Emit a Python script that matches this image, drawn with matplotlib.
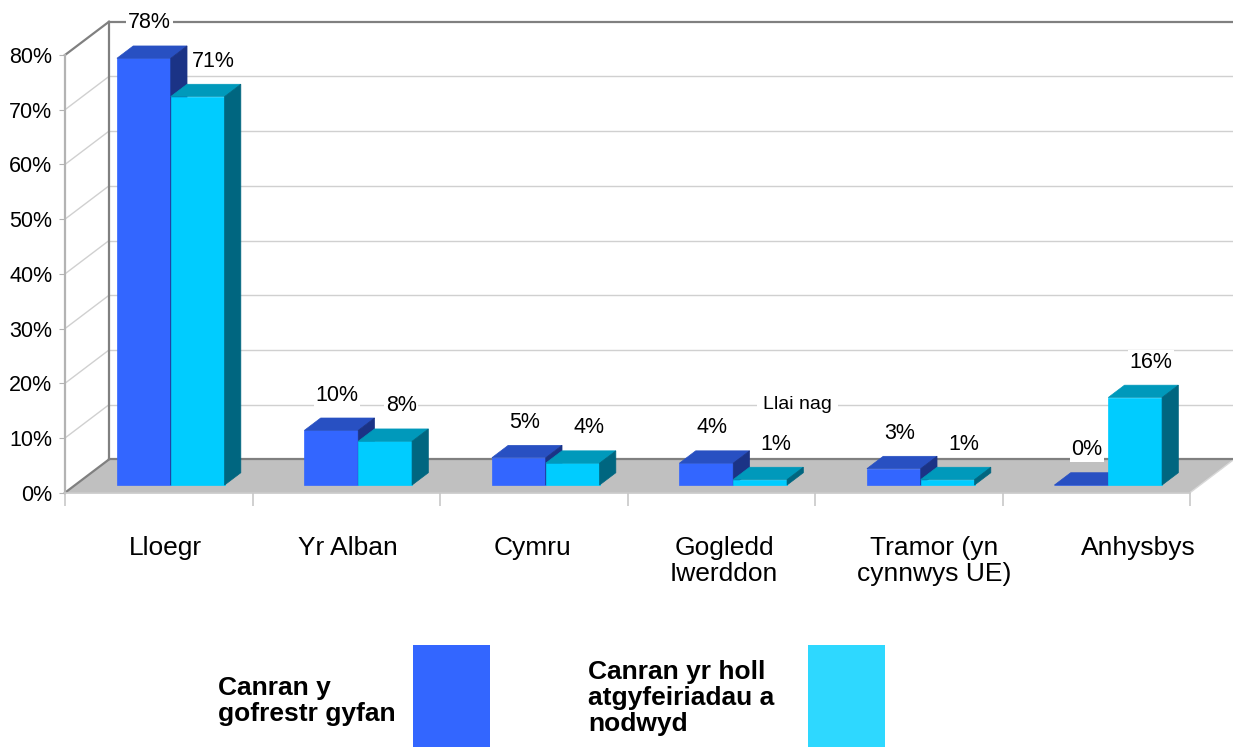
import matplotlib.pyplot as plt
from matplotlib.patches import Polygon, Rectangle

plt.rcParams['font.family'] = ['Liberation Sans', 'DejaVu Sans']

# Data
categories = ['Lloegr', 'Yr Alban', 'Cymru', 'Gogledd\nIwerddon',
              'Tramor (yn\ncynnwys UE)', 'Anhysbys']
register_pct = [78, 10, 5, 4, 3, 0]
referral_pct = [71, 8, 4, 1, 1, 16]
series_names = ['Canran y\ngofrestr gyfan',
                'Canran yr holl\natgyfeiriadau a\nnodwyd']
y_ticks = [0, 10, 20, 30, 40, 50, 60, 70, 80]

W, H = 1233, 747
fig = plt.figure(figsize=(W / 100, H / 100), dpi=100)

# front box of the pseudo-3D chart, in pixels
left_px, right_px, top_px, bot_px = 65, 1190, 55, 492.7
ax = fig.add_axes([left_px / W, (H - bot_px) / H,
                   (right_px - left_px) / W, (bot_px - top_px) / H])
n = len(categories)
ymax = 80
ax.set_xlim(0, n)
ax.set_ylim(0, ymax)

# depth of the floor, in data units (x: categories, y: percent)
DX = 44 / ((right_px - left_px) / n)
DY = 33.3 / ((bot_px - top_px) / ymax)

# bar placement in depth
d0, dd = 0.23, 0.37
bar_w = 0.287

grid_c = '#d0d0d0'
dark_c = '#808080'

# floor
ax.add_patch(Polygon([(0, 0), (n, 0), (n + DX, DY), (DX, DY)],
                     closed=True, facecolor='#c0c0c0', edgecolor='none',
                     zorder=1, clip_on=False))
ax.plot([n, n + DX], [0, DY], color='#d8d8d8', lw=1, zorder=1.5, clip_on=False)

# back wall and side wall grid
for v in y_ticks:
    col = dark_c if v in (0, ymax) else grid_c
    lw = 1.6 if v in (0, ymax) else 1.0
    ax.plot([DX, n + DX], [v + DY, v + DY], color=col, lw=lw,
            zorder=2, clip_on=False)
    ax.plot([0, DX], [v, v + DY], color=col, lw=lw, zorder=2, clip_on=False)
ax.plot([DX, DX], [DY, ymax + DY], color=dark_c, lw=1.6, zorder=2, clip_on=False)

# axes styling: left spine = front wall edge, bottom spine = floor front edge
for s in ['top', 'right']:
    ax.spines[s].set_visible(False)
ax.spines['left'].set_color('#b3b3b3')
ax.spines['left'].set_linewidth(1.6)
ax.spines['bottom'].set_color('#c8c8c8')
ax.spines['bottom'].set_linewidth(1.2)
for s in ['left', 'bottom']:
    ax.spines[s].set_zorder(2.5)
ax.set_facecolor('none')
ax.set_yticks(y_ticks)
ax.set_yticklabels([f'{v}%' for v in y_ticks], fontsize=15.5)
ax.tick_params(axis='y', length=4, color='#b3b3b3', pad=5)
ax.set_xticks(range(n + 1))
ax.set_xticklabels([])
ax.tick_params(axis='x', length=9, color='#c8c8c8', width=1.2)

faces = {
    'blue': ('#3366ff', '#2850c2', '#1b3386'),
    'cyan': ('#00ccff', '#0099bb', '#006680'),
}


def draw_bar(x0, v, cols, label_dx):
    front, top, side = cols
    xa, ya = x0 + d0 * DX, d0 * DY
    xb, yb = dd * DX, dd * DY
    # front
    ax.add_patch(Polygon([(xa, ya), (xa + bar_w, ya), (xa + bar_w, ya + v),
                          (xa, ya + v)], closed=True, facecolor=front,
                         edgecolor=front, lw=0.5, zorder=3, clip_on=False))
    # top
    ax.add_patch(Polygon([(xa, ya + v), (xa + bar_w, ya + v),
                          (xa + bar_w + xb, ya + v + yb), (xa + xb, ya + v + yb)],
                         closed=True, facecolor=top, edgecolor=top, lw=0.5,
                         zorder=3, clip_on=False))
    # side
    ax.add_patch(Polygon([(xa + bar_w, ya), (xa + bar_w + xb, ya + yb),
                          (xa + bar_w + xb, ya + v + yb), (xa + bar_w, ya + v)],
                         closed=True, facecolor=side, edgecolor=side, lw=0.5,
                         zorder=3, clip_on=False))
    # value label above the bar
    ax.text(xa + bar_w / 2 + label_dx, ya + v + yb + 4.2, f'{v}%',
            ha='center', va='center', fontsize=15.5, zorder=2.8,
            bbox=dict(boxstyle='square,pad=0.08', fc='white', ec='none'))


for i in range(n):
    start = i + 0.51 - bar_w
    draw_bar(start, register_pct[i], faces['blue'], 0.03)
    draw_bar(start + bar_w, referral_pct[i], faces['cyan'], 0.085)

# stray text on the back wall of the original
ax.text(3.907, 10 + DY, 'Llai nag', ha='center', va='center', fontsize=14,
        zorder=2.6, bbox=dict(boxstyle='square,pad=0.3', fc='white', ec='none'))

# category labels under the floor
label_nudge = [0.0, -0.027, -0.043, -0.02, 0.1, 0.187]
for i, lab in enumerate(categories):
    ax.text(i + 0.535 + label_nudge[i], -8.0, lab, ha='center', va='top',
            fontsize=19, linespacing=1.1, clip_on=False)

# legend below the chart
fig.text(218 / W, 1 - 701 / H, series_names[0], ha='left', va='center',
         fontsize=19, fontweight='bold', linespacing=1.12)
fig.text(588 / W, 1 - 698 / H, series_names[1], ha='left', va='center',
         fontsize=19, fontweight='bold', linespacing=1.12)
fig.patches.append(Rectangle((413 / W, 0), 77 / W, 102 / H,
                             transform=fig.transFigure, facecolor='#3366ff',
                             edgecolor='none'))
fig.patches.append(Rectangle((808 / W, 0), 77 / W, 102 / H,
                             transform=fig.transFigure, facecolor='#2ed8ff',
                             edgecolor='none'))

fig.savefig('out.png', dpi=100, facecolor='white')
